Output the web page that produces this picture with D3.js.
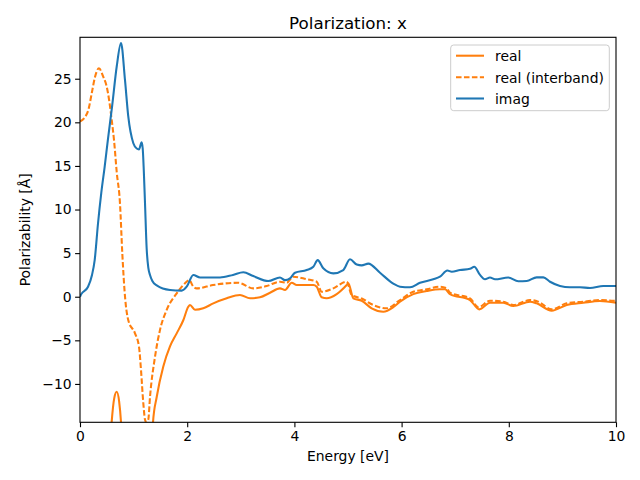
<!DOCTYPE html>
<html>
<head>
<meta charset="utf-8">
<script src="https://cdn.jsdelivr.net/npm/d3@7"></script>
<style>
  body { margin: 0; background: #fff; }
  text { font-family: "DejaVu Sans", sans-serif; fill: #000; }
</style>
</head>
<body>
<svg id="chart" width="640" height="480"></svg>
<script>
// ---- data ----
const xTicks = [0, 2, 4, 6, 8, 10];
const yTicks = [-10, -5, 0, 5, 10, 15, 20, 25];
const legendLabels = ["real", "real (interband)", "imag"];

const imagEnergy = [0, 0.024, 0.15, 0.224, 0.274, 0.336, 0.397, 0.46, 0.52, 0.6, 0.685, 0.765, 0.84, 0.90, 0.995, 1.058, 1.10, 1.15, 1.17, 1.19, 1.213, 1.244, 1.275, 1.306, 1.35, 1.431, 1.679, 1.897, 1.99, 2.114, 2.239, 2.612, 2.854, 3.047, 3.233, 3.513, 3.731, 3.825, 3.918, 4.011, 4.23, 4.353, 4.435, 4.539, 4.726, 4.912, 5.037, 5.162, 5.256, 5.379, 5.597, 5.845, 5.97, 6.157, 6.343, 6.59, 6.716, 6.853, 6.935, 7.09, 7.276, 7.356, 7.463, 7.556, 7.649, 7.743, 7.99, 8.177, 8.334, 8.52, 8.644, 8.769, 8.955, 9.142, 9.328, 9.515, 9.763, 10.0];
const imagValues = [0, 0.3, 1.15, 2.5, 4.2, 8.4, 11.9, 14.9, 18.0, 21.9, 26.4, 29.1, 24.8, 20.7, 17.6, 17.0, 16.9, 17.7, 17.0, 14.5, 10.7, 5.5, 3.3, 2.5, 1.8, 1.3, 0.77, 0.7, 1.15, 2.5, 2.2, 2.2, 2.5, 2.8, 2.37, 1.8, 2.2, 1.9, 2.1, 2.75, 3.06, 3.44, 4.2, 3.26, 2.68, 3.06, 4.29, 3.7, 3.6, 3.8, 2.75, 1.5, 1.15, 1.08, 1.6, 2.0, 2.3, 3.0, 2.87, 3.06, 3.2, 3.44, 2.5, 2.0, 2.2, 2.0, 2.2, 1.77, 1.8, 2.22, 2.22, 1.72, 1.23, 1.08, 1.08, 1.0, 1.23, 1.23];

const interEnergy = [0, 0.093, 0.155, 0.218, 0.28, 0.354, 0.435, 0.498, 0.547, 0.591, 0.634, 0.685, 0.746, 0.789, 0.84, 0.901, 1.026, 1.10, 1.138, 1.181, 1.213, 1.24, 1.274, 1.306, 1.399, 1.493, 1.618, 1.804, 1.959, 2.039, 2.114, 2.177, 2.48, 2.953, 3.233, 3.483, 3.731, 3.856, 3.979, 4.23, 4.416, 4.509, 4.726, 4.976, 5.069, 5.256, 5.472, 5.722, 5.97, 6.218, 6.468, 6.716, 6.841, 6.903, 7.276, 7.431, 7.649, 7.897, 8.084, 8.396, 8.55, 8.8, 9.08, 9.39, 9.70, 10.0];
const interValues = [20.1, 20.6, 21.4, 23.3, 25.2, 26.2, 25.2, 24.1, 22.4, 20.3, 18.0, 14.3, 10.7, 5.0, 0.0, -2.7, -4.2, -5.7, -8.4, -12.2, -14.1, -14.4, -14.1, -11.5, -6.9, -3.8, -1.5, 0.39, 1.54, 1.9, 1.15, 0.96, 1.34, 1.6, 0.96, 1.23, 1.72, 1.6, 2.3, 2.0, 1.72, 0.57, 0.96, 1.72, 0.2, -0.2, -0.95, -1.33, -0.38, 0.57, 0.85, 1.15, 0.96, 0.46, -0.18, -1.2, -0.46, -0.57, -0.95, -0.38, -0.57, -1.45, -0.76, -0.57, -0.38, -0.49];

const realEnergy = [0.3, 0.45, 0.55, 0.59, 0.64, 0.685, 0.73, 0.765, 0.8, 0.9, 1.05, 1.2, 1.3, 1.362, 1.431, 1.554, 1.679, 1.804, 1.927, 2.02, 2.052, 2.146, 2.30, 2.487, 2.737, 2.985, 3.172, 3.358, 3.545, 3.731, 3.825, 3.95, 4.043, 4.353, 4.416, 4.509, 4.603, 4.789, 4.976, 5.006, 5.099, 5.256, 5.442, 5.659, 5.845, 5.97, 6.218, 6.468, 6.716, 6.81, 6.903, 7.276, 7.45, 7.649, 7.897, 8.084, 8.396, 8.52, 8.8, 9.08, 9.39, 9.70, 10.0];
const realValues = [-60, -30, -18, -14.4, -11.6, -10.9, -12.0, -14.4, -19, -30, -40, -32, -22, -14.4, -11.5, -8.0, -5.7, -4.2, -2.7, -1.15, -0.95, -1.5, -1.33, -0.76, -0.18, 0.2, -0.18, -0.07, 0.46, 0.96, 0.77, 1.6, 1.34, 1.34, 1.15, -0.07, -0.18, 0.3, 1.34, 1.54, -0.18, -0.46, -1.33, -1.72, -1.2, -0.57, 0.3, 0.65, 0.85, 0.85, 0.3, -0.38, -1.45, -0.69, -0.69, -1.07, -0.57, -0.76, -1.6, -0.95, -0.69, -0.49, -0.69];

const orange = "#ff7f0e", blue = "#1f77b4";

// ---- layout ----
const svg = d3.select("#chart");
const L = 80, R = 616, T = 37.3, B = 422.3;
const x = d3.scaleLinear().domain([0, 10]).range([L, R]);
const y = d3.scaleLinear().domain([-14.4, 29.75]).range([B, T]);

svg.append("defs").append("clipPath").attr("id", "clip")
  .append("rect").attr("x", L).attr("y", T).attr("width", R - L).attr("height", B - T);

const line = d3.line().x(d => x(d[0])).y(d => y(d[1])).curve(d3.curveMonotoneX);
const g = svg.append("g").attr("clip-path", "url(#clip)");

const series = [
  { e: realEnergy, v: realValues, color: orange, dash: null },
  { e: interEnergy, v: interValues, color: orange, dash: "5.55,2.4" },
  { e: imagEnergy, v: imagValues, color: blue, dash: null }
];
series.forEach(s => {
  g.append("path")
    .datum(s.e.map((e, i) => [e, s.v[i]]))
    .attr("d", line)
    .attr("fill", "none")
    .attr("stroke", s.color)
    .attr("stroke-width", 2.08)
    .attr("stroke-dasharray", s.dash)
    .attr("stroke-linejoin", "round");
});

// ---- axes ----
const xAxis = d3.axisBottom(x).tickValues(xTicks).tickSize(4.9).tickPadding(3.5).tickFormat(d3.format("d"));
const yAxis = d3.axisLeft(y).tickValues(yTicks).tickSize(4.9).tickPadding(3.5).tickFormat(d => d < 0 ? "\u2212" + Math.abs(d) : d);

const gx = svg.append("g").attr("transform", `translate(0,${B})`).call(xAxis);
const gy = svg.append("g").attr("transform", `translate(${L},0)`).call(yAxis);
[gx, gy].forEach(a => {
  a.select(".domain").remove();
  a.selectAll("line").attr("stroke", "#000").attr("stroke-width", 1.1);
  a.selectAll("text").style("font-size", "13.9px").style("font-family", "DejaVu Sans, sans-serif").attr("fill", "#000");
});
gx.selectAll("text").attr("dy", "0.71em");

// frame
svg.append("rect").attr("x", L).attr("y", T).attr("width", R - L).attr("height", B - T)
  .attr("fill", "none").attr("stroke", "#000").attr("stroke-width", 1.1);

// ---- labels ----
svg.append("text").attr("x", (L + R) / 2).attr("y", 29).attr("text-anchor", "middle")
  .style("font-size", "16.7px").text("Polarization: x");
svg.append("text").attr("x", (L + R) / 2).attr("y", 461).attr("text-anchor", "middle")
  .style("font-size", "13.9px").text("Energy [eV]");
svg.append("text").attr("transform", `translate(30,${(T + B) / 2}) rotate(-90)`).attr("text-anchor", "middle")
  .style("font-size", "13.9px").text("Polarizability [Å]");

// ---- legend ----
const lg = svg.append("g");
lg.append("rect").attr("x", 450.7).attr("y", 45).attr("width", 158.6).attr("height", 65.7)
  .attr("rx", 3).attr("fill", "rgba(255,255,255,0.8)").attr("stroke", "#cccccc").attr("stroke-width", 1);
const legendY = [55.7, 77.2, 98.5];
legendLabels.forEach((lab, i) => {
  const s = series[i];
  lg.append("line").attr("x1", 456).attr("x2", 484).attr("y1", legendY[i]).attr("y2", legendY[i])
    .attr("stroke", s.color).attr("stroke-width", 2.08).attr("stroke-dasharray", s.dash);
  lg.append("text").attr("x", 495).attr("y", legendY[i] + 5.3).style("font-size", "13.9px").text(lab);
});
</script>
</body>
</html>
